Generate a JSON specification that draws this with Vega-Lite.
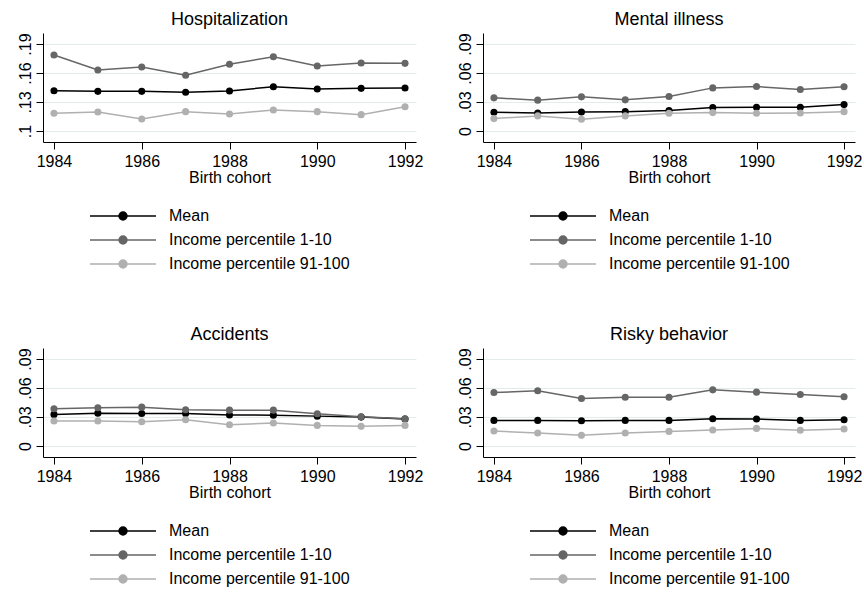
{
  "$schema": "https://vega.github.io/schema/vega-lite/v6.json",
  "padding": {"left": 17, "top": 10, "right": 0, "bottom": 0},
  "background": "white",
  "data": {"values": [
    {"panel": "Hospitalization", "series": "Mean", "year": 1984, "value": 0.1417},
    {"panel": "Hospitalization", "series": "Mean", "year": 1985, "value": 0.1410},
    {"panel": "Hospitalization", "series": "Mean", "year": 1986, "value": 0.1410},
    {"panel": "Hospitalization", "series": "Mean", "year": 1987, "value": 0.1400},
    {"panel": "Hospitalization", "series": "Mean", "year": 1988, "value": 0.1414},
    {"panel": "Hospitalization", "series": "Mean", "year": 1989, "value": 0.1458},
    {"panel": "Hospitalization", "series": "Mean", "year": 1990, "value": 0.1434},
    {"panel": "Hospitalization", "series": "Mean", "year": 1991, "value": 0.1441},
    {"panel": "Hospitalization", "series": "Mean", "year": 1992, "value": 0.1445},
    {"panel": "Hospitalization", "series": "Income percentile 1-10", "year": 1984, "value": 0.1786},
    {"panel": "Hospitalization", "series": "Income percentile 1-10", "year": 1985, "value": 0.1631},
    {"panel": "Hospitalization", "series": "Income percentile 1-10", "year": 1986, "value": 0.1662},
    {"panel": "Hospitalization", "series": "Income percentile 1-10", "year": 1987, "value": 0.1576},
    {"panel": "Hospitalization", "series": "Income percentile 1-10", "year": 1988, "value": 0.1690},
    {"panel": "Hospitalization", "series": "Income percentile 1-10", "year": 1989, "value": 0.1769},
    {"panel": "Hospitalization", "series": "Income percentile 1-10", "year": 1990, "value": 0.1672},
    {"panel": "Hospitalization", "series": "Income percentile 1-10", "year": 1991, "value": 0.1703},
    {"panel": "Hospitalization", "series": "Income percentile 1-10", "year": 1992, "value": 0.1700},
    {"panel": "Hospitalization", "series": "Income percentile 91-100", "year": 1984, "value": 0.1183},
    {"panel": "Hospitalization", "series": "Income percentile 91-100", "year": 1985, "value": 0.1197},
    {"panel": "Hospitalization", "series": "Income percentile 91-100", "year": 1986, "value": 0.1124},
    {"panel": "Hospitalization", "series": "Income percentile 91-100", "year": 1987, "value": 0.1200},
    {"panel": "Hospitalization", "series": "Income percentile 91-100", "year": 1988, "value": 0.1176},
    {"panel": "Hospitalization", "series": "Income percentile 91-100", "year": 1989, "value": 0.1217},
    {"panel": "Hospitalization", "series": "Income percentile 91-100", "year": 1990, "value": 0.1200},
    {"panel": "Hospitalization", "series": "Income percentile 91-100", "year": 1991, "value": 0.1169},
    {"panel": "Hospitalization", "series": "Income percentile 91-100", "year": 1992, "value": 0.1251},
    {"panel": "Mental illness", "series": "Mean", "year": 1984, "value": 0.0194},
    {"panel": "Mental illness", "series": "Mean", "year": 1985, "value": 0.0187},
    {"panel": "Mental illness", "series": "Mean", "year": 1986, "value": 0.0197},
    {"panel": "Mental illness", "series": "Mean", "year": 1987, "value": 0.0200},
    {"panel": "Mental illness", "series": "Mean", "year": 1988, "value": 0.0211},
    {"panel": "Mental illness", "series": "Mean", "year": 1989, "value": 0.0242},
    {"panel": "Mental illness", "series": "Mean", "year": 1990, "value": 0.0246},
    {"panel": "Mental illness", "series": "Mean", "year": 1991, "value": 0.0246},
    {"panel": "Mental illness", "series": "Mean", "year": 1992, "value": 0.0273},
    {"panel": "Mental illness", "series": "Income percentile 1-10", "year": 1984, "value": 0.0343},
    {"panel": "Mental illness", "series": "Income percentile 1-10", "year": 1985, "value": 0.0319},
    {"panel": "Mental illness", "series": "Income percentile 1-10", "year": 1986, "value": 0.0353},
    {"panel": "Mental illness", "series": "Income percentile 1-10", "year": 1987, "value": 0.0322},
    {"panel": "Mental illness", "series": "Income percentile 1-10", "year": 1988, "value": 0.0356},
    {"panel": "Mental illness", "series": "Income percentile 1-10", "year": 1989, "value": 0.0446},
    {"panel": "Mental illness", "series": "Income percentile 1-10", "year": 1990, "value": 0.0460},
    {"panel": "Mental illness", "series": "Income percentile 1-10", "year": 1991, "value": 0.0429},
    {"panel": "Mental illness", "series": "Income percentile 1-10", "year": 1992, "value": 0.0457},
    {"panel": "Mental illness", "series": "Income percentile 91-100", "year": 1984, "value": 0.0128},
    {"panel": "Mental illness", "series": "Income percentile 91-100", "year": 1985, "value": 0.0156},
    {"panel": "Mental illness", "series": "Income percentile 91-100", "year": 1986, "value": 0.0121},
    {"panel": "Mental illness", "series": "Income percentile 91-100", "year": 1987, "value": 0.0156},
    {"panel": "Mental illness", "series": "Income percentile 91-100", "year": 1988, "value": 0.0183},
    {"panel": "Mental illness", "series": "Income percentile 91-100", "year": 1989, "value": 0.0190},
    {"panel": "Mental illness", "series": "Income percentile 91-100", "year": 1990, "value": 0.0183},
    {"panel": "Mental illness", "series": "Income percentile 91-100", "year": 1991, "value": 0.0187},
    {"panel": "Mental illness", "series": "Income percentile 91-100", "year": 1992, "value": 0.0200},
    {"panel": "Accidents", "series": "Mean", "year": 1984, "value": 0.0327},
    {"panel": "Accidents", "series": "Mean", "year": 1985, "value": 0.0340},
    {"panel": "Accidents", "series": "Mean", "year": 1986, "value": 0.0337},
    {"panel": "Accidents", "series": "Mean", "year": 1987, "value": 0.0337},
    {"panel": "Accidents", "series": "Mean", "year": 1988, "value": 0.0320},
    {"panel": "Accidents", "series": "Mean", "year": 1989, "value": 0.0319},
    {"panel": "Accidents", "series": "Mean", "year": 1990, "value": 0.0309},
    {"panel": "Accidents", "series": "Mean", "year": 1991, "value": 0.0299},
    {"panel": "Accidents", "series": "Mean", "year": 1992, "value": 0.0278},
    {"panel": "Accidents", "series": "Income percentile 1-10", "year": 1984, "value": 0.0385},
    {"panel": "Accidents", "series": "Income percentile 1-10", "year": 1985, "value": 0.0396},
    {"panel": "Accidents", "series": "Income percentile 1-10", "year": 1986, "value": 0.0402},
    {"panel": "Accidents", "series": "Income percentile 1-10", "year": 1987, "value": 0.0375},
    {"panel": "Accidents", "series": "Income percentile 1-10", "year": 1988, "value": 0.0371},
    {"panel": "Accidents", "series": "Income percentile 1-10", "year": 1989, "value": 0.0371},
    {"panel": "Accidents", "series": "Income percentile 1-10", "year": 1990, "value": 0.0334},
    {"panel": "Accidents", "series": "Income percentile 1-10", "year": 1991, "value": 0.0303},
    {"panel": "Accidents", "series": "Income percentile 1-10", "year": 1992, "value": 0.0282},
    {"panel": "Accidents", "series": "Income percentile 91-100", "year": 1984, "value": 0.0258},
    {"panel": "Accidents", "series": "Income percentile 91-100", "year": 1985, "value": 0.0258},
    {"panel": "Accidents", "series": "Income percentile 91-100", "year": 1986, "value": 0.0251},
    {"panel": "Accidents", "series": "Income percentile 91-100", "year": 1987, "value": 0.0272},
    {"panel": "Accidents", "series": "Income percentile 91-100", "year": 1988, "value": 0.0220},
    {"panel": "Accidents", "series": "Income percentile 91-100", "year": 1989, "value": 0.0237},
    {"panel": "Accidents", "series": "Income percentile 91-100", "year": 1990, "value": 0.0213},
    {"panel": "Accidents", "series": "Income percentile 91-100", "year": 1991, "value": 0.0203},
    {"panel": "Accidents", "series": "Income percentile 91-100", "year": 1992, "value": 0.0213},
    {"panel": "Risky behavior", "series": "Mean", "year": 1984, "value": 0.0265},
    {"panel": "Risky behavior", "series": "Mean", "year": 1985, "value": 0.0265},
    {"panel": "Risky behavior", "series": "Mean", "year": 1986, "value": 0.0261},
    {"panel": "Risky behavior", "series": "Mean", "year": 1987, "value": 0.0265},
    {"panel": "Risky behavior", "series": "Mean", "year": 1988, "value": 0.0265},
    {"panel": "Risky behavior", "series": "Mean", "year": 1989, "value": 0.0282},
    {"panel": "Risky behavior", "series": "Mean", "year": 1990, "value": 0.0279},
    {"panel": "Risky behavior", "series": "Mean", "year": 1991, "value": 0.0265},
    {"panel": "Risky behavior", "series": "Mean", "year": 1992, "value": 0.0272},
    {"panel": "Risky behavior", "series": "Income percentile 1-10", "year": 1984, "value": 0.0553},
    {"panel": "Risky behavior", "series": "Income percentile 1-10", "year": 1985, "value": 0.0571},
    {"panel": "Risky behavior", "series": "Income percentile 1-10", "year": 1986, "value": 0.0492},
    {"panel": "Risky behavior", "series": "Income percentile 1-10", "year": 1987, "value": 0.0505},
    {"panel": "Risky behavior", "series": "Income percentile 1-10", "year": 1988, "value": 0.0505},
    {"panel": "Risky behavior", "series": "Income percentile 1-10", "year": 1989, "value": 0.0581},
    {"panel": "Risky behavior", "series": "Income percentile 1-10", "year": 1990, "value": 0.0557},
    {"panel": "Risky behavior", "series": "Income percentile 1-10", "year": 1991, "value": 0.0533},
    {"panel": "Risky behavior", "series": "Income percentile 1-10", "year": 1992, "value": 0.0509},
    {"panel": "Risky behavior", "series": "Income percentile 91-100", "year": 1984, "value": 0.0155},
    {"panel": "Risky behavior", "series": "Income percentile 91-100", "year": 1985, "value": 0.0134},
    {"panel": "Risky behavior", "series": "Income percentile 91-100", "year": 1986, "value": 0.0110},
    {"panel": "Risky behavior", "series": "Income percentile 91-100", "year": 1987, "value": 0.0134},
    {"panel": "Risky behavior", "series": "Income percentile 91-100", "year": 1988, "value": 0.0151},
    {"panel": "Risky behavior", "series": "Income percentile 91-100", "year": 1989, "value": 0.0165},
    {"panel": "Risky behavior", "series": "Income percentile 91-100", "year": 1990, "value": 0.0182},
    {"panel": "Risky behavior", "series": "Income percentile 91-100", "year": 1991, "value": 0.0162},
    {"panel": "Risky behavior", "series": "Income percentile 91-100", "year": 1992, "value": 0.0175}
  ]},
  "columns": 2,
  "bounds": "flush",
  "spacing": {"row": 206, "column": 67},
  "resolve": {"scale": {"y": "independent", "color": "independent"}, "legend": {"color": "independent"}},
  "concat": [
    {
      "title": "Hospitalization",
      "width": 373, "height": 109,
      "transform": [{"filter": "datum.panel === 'Hospitalization'"}],
      "encoding": {
        "x": {"field": "year", "type": "quantitative", "title": "Birth cohort", "scale": {"domain": [1983.75, 1992.25], "nice": false, "zero": false}, "axis": {"values": [1984, 1986, 1988, 1990, 1992], "format": "d"}},
        "y": {"field": "value", "type": "quantitative", "title": null, "scale": {"domain": [0.0886, 0.2014], "nice": false, "zero": false}, "axis": {"values": [0.1, 0.13, 0.16, 0.19]}},
        "color": {"field": "series", "type": "nominal", "scale": {"domain": ["Mean", "Income percentile 1-10", "Income percentile 91-100"], "range": ["#000000", "#666666", "#b0b0b0"]}}
      },
      "layer": [
        {"mark": {"type": "line", "strokeWidth": 1.5}},
        {"mark": {"type": "point", "filled": true, "size": 50, "opacity": 1}}
      ]
    },
    {
      "title": "Mental illness",
      "width": 372, "height": 109,
      "transform": [{"filter": "datum.panel === 'Mental illness'"}],
      "encoding": {
        "x": {"field": "year", "type": "quantitative", "title": "Birth cohort", "scale": {"domain": [1983.75, 1992.25], "nice": false, "zero": false}, "axis": {"values": [1984, 1986, 1988, 1990, 1992], "format": "d"}},
        "y": {"field": "value", "type": "quantitative", "title": null, "scale": {"domain": [-0.0114, 0.1014], "nice": false, "zero": false}, "axis": {"values": [0, 0.03, 0.06, 0.09]}},
        "color": {"field": "series", "type": "nominal", "scale": {"domain": ["Mean", "Income percentile 1-10", "Income percentile 91-100"], "range": ["#000000", "#666666", "#b0b0b0"]}}
      },
      "layer": [
        {"mark": {"type": "line", "strokeWidth": 1.5}},
        {"mark": {"type": "point", "filled": true, "size": 50, "opacity": 1}}
      ]
    },
    {
      "title": "Accidents",
      "width": 373, "height": 109,
      "transform": [{"filter": "datum.panel === 'Accidents'"}],
      "encoding": {
        "x": {"field": "year", "type": "quantitative", "title": "Birth cohort", "scale": {"domain": [1983.75, 1992.25], "nice": false, "zero": false}, "axis": {"values": [1984, 1986, 1988, 1990, 1992], "format": "d"}},
        "y": {"field": "value", "type": "quantitative", "title": null, "scale": {"domain": [-0.0114, 0.1014], "nice": false, "zero": false}, "axis": {"values": [0, 0.03, 0.06, 0.09]}},
        "color": {"field": "series", "type": "nominal", "scale": {"domain": ["Mean", "Income percentile 1-10", "Income percentile 91-100"], "range": ["#000000", "#666666", "#b0b0b0"]}}
      },
      "layer": [
        {"mark": {"type": "line", "strokeWidth": 1.5}},
        {"mark": {"type": "point", "filled": true, "size": 50, "opacity": 1}}
      ]
    },
    {
      "title": "Risky behavior",
      "width": 372, "height": 109,
      "transform": [{"filter": "datum.panel === 'Risky behavior'"}],
      "encoding": {
        "x": {"field": "year", "type": "quantitative", "title": "Birth cohort", "scale": {"domain": [1983.75, 1992.25], "nice": false, "zero": false}, "axis": {"values": [1984, 1986, 1988, 1990, 1992], "format": "d"}},
        "y": {"field": "value", "type": "quantitative", "title": null, "scale": {"domain": [-0.0114, 0.1014], "nice": false, "zero": false}, "axis": {"values": [0, 0.03, 0.06, 0.09]}},
        "color": {"field": "series", "type": "nominal", "scale": {"domain": ["Mean", "Income percentile 1-10", "Income percentile 91-100"], "range": ["#000000", "#666666", "#b0b0b0"]}}
      },
      "layer": [
        {"mark": {"type": "line", "strokeWidth": 1.5}},
        {"mark": {"type": "point", "filled": true, "size": 50, "opacity": 1}}
      ]
    }
  ],
  "config": {
    "font": "Liberation Sans",
    "view": {"stroke": null},
    "title": {"font": "Liberation Sans", "fontSize": 18, "fontWeight": "normal", "color": "#000000", "anchor": "middle", "frame": "group", "offset": 4},
    "axis": {
      "labelFont": "Liberation Sans", "labelFontSize": 16, "labelColor": "#000000",
      "titleFont": "Liberation Sans", "titleFontSize": 16, "titleFontWeight": "normal", "titleColor": "#000000",
      "domainColor": "#000000", "tickColor": "#000000", "tickSize": 7, "domainWidth": 1, "tickWidth": 1
    },
    "axisX": {"grid": false, "labelPadding": 4, "titlePadding": 0, "labelFlush": false},
    "axisY": {"grid": true, "gridColor": "#e3eced", "gridWidth": 1, "labelAngle": -90, "labelPadding": 3, "labelExpr": "datum.value == 0 ? '0' : slice(format(datum.value, '.2~f'), 1)"},
    "legend": {
      "orient": "none", "legendX": 68, "legendY": 171, "title": null,
      "symbolType": "M-3,0H3M-0.36,0A0.36,0.36,0,1,0,0.36,0A0.36,0.36,0,1,0,-0.36,0Z",
      "symbolSize": 484, "symbolStrokeWidth": 1.5,
      "labelFont": "Liberation Sans", "labelFontSize": 16, "labelColor": "#000000", "labelLimit": 400,
      "labelOffset": 34, "rowPadding": 4, "padding": 0
    }
  }
}
